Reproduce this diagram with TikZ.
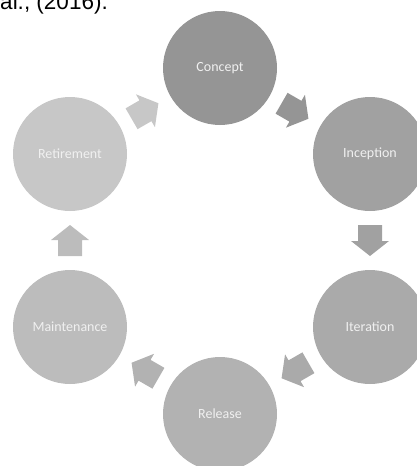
\documentclass[tikz,border=0pt]{standalone}
\usepackage{fontspec}
\setmainfont{Carlito}
\newfontfamily\arialfont{Liberation Sans}
\usetikzlibrary{calc}
\definecolor{cA}{HTML}{959595}
\definecolor{cB}{HTML}{A1A1A1}
\definecolor{cC}{HTML}{AAAAAA}
\definecolor{cD}{HTML}{B2B2B2}
\definecolor{cE}{HTML}{BCBCBC}
\definecolor{cF}{HTML}{C7C7C7}
\definecolor{txt}{HTML}{F0F0F0}
\begin{document}
\begin{tikzpicture}[x=1pt,y=-1pt,
  phase/.style={circle, minimum size=114pt, inner sep=0pt, text=txt,
    font=\fontsize{14}{16}\selectfont}]
\useasboundingbox (0,0) rectangle (416,466);
\node[anchor=base east, inner sep=0pt, font=\arialfont\fontsize{22.5}{26}\selectfont] (cite) at (108,9) {al., (2016).};
\node[phase, fill=cA] (con) at (220,68) {Concept};
\node[phase, fill=cB] (inc) at (370,154) {Inception};
\node[phase, fill=cC] (ite) at (370,327) {Iteration};
\node[phase, fill=cD] (rel) at (220,414) {Release};
\node[phase, fill=cE] (mai) at (70,327) {Maintenance};
\node[phase, fill=cF] (ret) at (70,154) {Retirement};
\foreach \a/\b/\ang/\col in {con/inc/-30/cA, inc/ite/-90/cB, ite/rel/210/cC,
    rel/mai/150/cD, mai/ret/90/cE, ret/con/30/cF}
  \fill[\col, shift={($(\a)!0.5!(\b)$)}, rotate=\ang]
    (-15.5,-12) -- (0.5,-12) -- (0.5,-19) -- (15.5,0) -- (0.5,19) -- (0.5,12) -- (-15.5,12) -- cycle;
\end{tikzpicture}
\end{document}
